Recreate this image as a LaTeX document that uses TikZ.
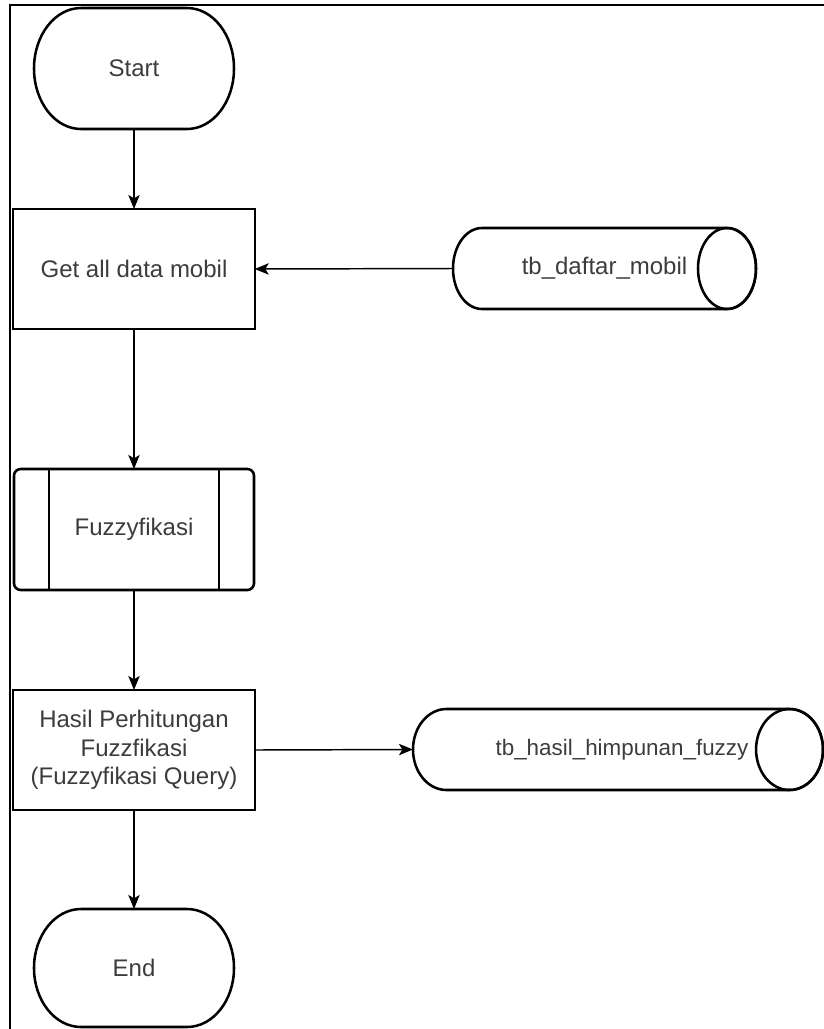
\documentclass[tikz,border=0pt]{standalone}
\usepackage{fontspec}
\setmainfont{Liberation Sans}
\usetikzlibrary{arrows.meta,calc}
\definecolor{txt}{RGB}{60,60,60}
% #1 node name, #2 x radius, #3 y radius
\newcommand\drawpill[3]{%
  \draw[pillline] ($(#1.north west)+(#2,0)$) -- ($(#1.north east)+(-#2,0)$)
    arc[start angle=90, end angle=-90, x radius=#2, y radius=#3]
    -- ($(#1.south west)+(#2,0)$)
    arc[start angle=270, end angle=90, x radius=#2, y radius=#3] -- cycle;}
\begin{document}
\begin{tikzpicture}[x=0.75pt,y=-0.75pt,
  base/.style={draw=black, fill=white, font=\fontsize{18}{21.4}\selectfont, text=txt, align=center, inner sep=0pt, outer sep=0pt},
  termbox/.style={font=\fontsize{18}{21.4}\selectfont, text=txt, inner sep=0pt, outer sep=0pt, minimum width=150pt},
  procbox/.style={base, line width=1.3pt, minimum width=181pt, minimum height=90pt},
  predef/.style={base, line width=1.9pt, rounded corners=5pt, minimum width=180pt, minimum height=90.75pt},
  cylbox/.style={font=\fontsize{18}{21.4}\selectfont, text=txt, inner sep=0pt, outer sep=0pt},
  pillline/.style={draw=black, line width=1.9pt},
  conn/.style={draw=black, line width=1.1pt, -{Stealth[length=10.5pt,width=8.5pt,inset=2.5pt]}},
  frame/.style={draw=black, line width=1.5pt}
]
\useasboundingbox (0,0) rectangle (824,1029);
\draw[frame] (10,1029) -- (10,5) -- (824,5);

\node[termbox, minimum height=90.75pt] (start) at (134,68.5) {Start};
\drawpill{start}{35.25pt}{45.375pt}
\node[procbox] (get) at (134,269) {Get all data mobil};
\node[predef] (fuzzy) at (134,529.5) {Fuzzyfikasi};
\node[procbox] (hasil) at (134,750) {Hasil Perhitungan\\Fuzzfikasi\\(Fuzzyfikasi Query)};
\node[termbox, minimum height=88.5pt] (end) at (134,968) {End};
\drawpill{end}{35.25pt}{44.25pt}

% predefined process inner lines
\draw[line width=1.9pt] ($(fuzzy.north west)+(26.25pt,0)$) -- ($(fuzzy.south west)+(26.25pt,0)$);
\draw[line width=1.9pt] ($(fuzzy.north east)+(-26.25pt,0)$) -- ($(fuzzy.south east)+(-26.25pt,0)$);

% cylinder 1
\node[cylbox, minimum width=227.25pt, minimum height=60.75pt] (c1) at (604.5,268.5) {tb\_daftar\_mobil};
\drawpill{c1}{21.75pt}{30.375pt}
\draw[pillline] ($(c1.east)+(-21.75pt,0)$) ellipse[x radius=21.75pt, y radius=30.375pt];

% cylinder 2
\node[cylbox, minimum width=307.5pt, minimum height=60.75pt] (c2) at (618,749.5) {\hspace{6pt}\fontsize{16.8}{20}\selectfont tb\_hasil\_himpunan\_fuzzy};
\drawpill{c2}{25.1pt}{30.375pt}
\draw[pillline] ($(c2.east)+(-25.1pt,0)$) ellipse[x radius=25.1pt, y radius=30.375pt];

% connectors
\draw[conn] (start.south) -- (get.north);
\draw[conn] (c1.west) -- (get.east);
\draw[conn] (get.south) -- (fuzzy.north);
\draw[conn] (fuzzy.south) -- (hasil.north);
\draw[conn] (hasil.east) -- (c2.west);
\draw[conn] (hasil.south) -- (end.north);
\end{tikzpicture}
\end{document}
